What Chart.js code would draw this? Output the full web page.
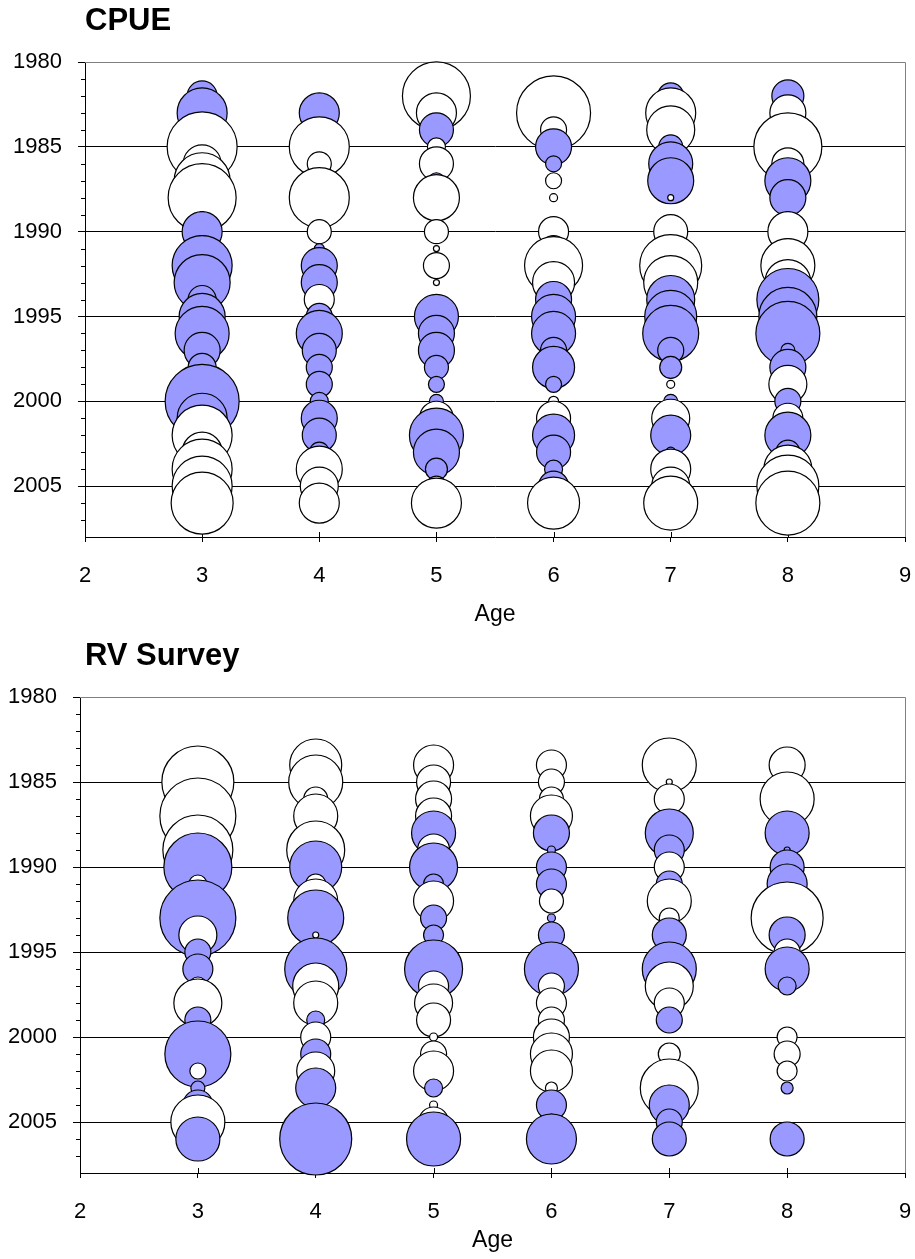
<!DOCTYPE html>
<html>
<head>
<meta charset="utf-8">
<script src="https://cdn.jsdelivr.net/npm/chart.js@4.4.1/dist/chart.umd.min.js"></script>
<style>
  html, body { margin: 0; padding: 0; background: #fff; }
  .panel { position: absolute; left: 0; width: 915px; }
</style>
</head>
<body>
<div class="panel" style="top:0;height:630px"><canvas id="cpue" width="915" height="630"></canvas></div>
<div class="panel" style="top:630px;height:629px"><canvas id="rv" width="915" height="629"></canvas></div>
<script>
// years 1982 .. 2006, residuals by age (positive = blue, negative = white)
const years = [1982, 1983, 1984, 1985, 1986, 1987, 1988, 1989, 1990, 1991, 1992, 1993, 1994,
  1995, 1996, 1997, 1998, 1999, 2000, 2001, 2002, 2003, 2004, 2005, 2006];
const ages = [3, 4, 5, 6, 7, 8];
const xTicks = [2, 3, 4, 5, 6, 7, 8, 9];

const cpueAge3 = [1.5, 2.5, 0.7, -3.5, -1.9, -2.8, -3.4, 0.3, 2.0, 1.3, 3.0, 2.8, 1.4, 2.3, 2.7, 1.8, 1.4, 1.0, 3.7, 2.5, -3.0, -2.0, -3.0, -3.0, -3.1];
const cpueAge4 = [0, 2.0, 0.8, -3.0, -1.2, -0.8, -3.0, 0, -1.2, 0.5, 1.8, 1.8, -1.5, 1.3, 2.3, 1.7, 1.3, 1.3, 0.9, 1.8, 1.7, 1.0, -2.3, -1.9, -2.0];
const cpueAge5 = [-3.4, -2.0, 1.7, -0.9, -1.7, 0.8, -2.3, 0, -1.2, -0.3, -1.3, -0.3, 0.3, 2.2, 1.8, 1.8, 1.2, 0.8, 0.7, -1.7, 2.7, 2.3, 1.1, -1.0, -2.5];
const cpueAge6 = [0.5, -3.7, -1.3, 1.8, 0.8, -0.8, -0.4, 0, -1.5, 1.3, -2.9, -2.1, 1.8, 2.2, 2.2, 1.3, 2.1, 0.8, -0.5, -1.7, 2.1, 1.7, 0.9, 1.5, -2.6];
const cpueAge7 = [1.3, -2.5, -2.4, 1.2, 2.2, 2.3, -0.3, 0, -1.7, 1.0, -3.1, -2.7, 2.4, 2.6, 2.8, 1.3, 1.1, -0.4, 0.7, -1.9, 2.0, 0.5, -2.0, -1.9, -2.7];
const cpueAge8 = [1.6, -1.8, 1.0, -3.4, -1.6, 2.3, 1.8, 0.3, -2.0, 1.0, -2.7, -2.3, 3.1, 2.9, 3.2, 0.7, 1.8, -1.9, 1.3, -1.5, 2.3, 1.2, -2.4, -3.1, -3.2];

const rvAge3 = [0, 0, 0.5, -3.6, -1.0, -3.8, -1.0, -3.5, 3.4, -0.9, 1.0, 3.8, -1.9, 1.3, 1.5, -0.9, -2.4, 1.3, 1.0, 3.3, -0.8, 0.7, 1.5, -2.7, 2.2];
const rvAge4 = [0, 0, -2.6, -2.7, -1.2, -2.2, -1.0, -2.9, 2.6, -1.0, -2.2, 2.8, -0.3, 1.0, 3.1, -2.3, -2.2, 0.9, -1.5, 1.5, -1.9, 2.0, 0, 1.0, 3.6];
const rvAge5 = [0, 0, -2.0, -1.7, -1.8, -1.8, 2.2, -1.6, 2.4, 1.0, -2.0, 1.3, 1.0, 1.0, 2.9, -1.5, -1.9, -1.7, -0.4, -1.3, -2.0, 0.9, -0.4, -1.5, 2.7];
const rvAge6 = [0, 0, -1.5, -1.3, -1.2, -2.1, 1.8, 0.4, 1.5, 1.5, -1.2, 0.4, 1.3, 0.8, 2.7, -1.3, -1.5, -1.3, -1.8, -2.1, -2.1, -0.6, 1.5, 0.8, 2.5];
const rvAge7 = [0, 0, -2.7, -0.3, -1.5, 0.6, 2.4, 1.5, -1.5, 1.3, -2.2, -1.0, 1.7, 0.8, 2.7, -2.4, -1.5, 1.3, 0, -1.1, 0.8, -2.9, 2.0, 1.3, 1.7];
const rvAge8 = [0, 0, -1.8, 0.6, -2.7, 0.3, 2.2, 0.3, 1.7, 2.0, 1.0, -3.6, 1.8, -1.3, 2.2, 0.9, 0, 0, -1.0, -1.3, -1.0, 0.6, 0, 0, 1.7];

const BUBBLE_PX = 10;   // pixels per residual unit
const FONT = '"Liberation Sans", Arial, sans-serif';

function makeDatasets(series) {
  return series.map((vals, k) => ({
    label: 'Age ' + ages[k],
    data: years.map((yr, i) => ({ x: ages[k], y: yr, r: Math.abs(vals[i]) * BUBBLE_PX, v: vals[i] }))
      .filter((p) => p.v !== 0),
    backgroundColor: (c) => (c.raw && c.raw.v > 0 ? '#9999FF' : '#FFFFFF'),
    borderColor: '#000000',
    borderWidth: 1.2,
    clip: false,
  }));
}

// title, frame, minor year ticks and inner half of the x ticks
const panelDecor = {
  id: 'panelDecor',
  beforeDatasetsDraw(chart) {
    const { ctx, chartArea: { left, right, top, bottom } } = chart;
    const { x, y } = chart.scales;
    ctx.save();
    ctx.strokeStyle = '#808080';
    ctx.lineWidth = 1;
    ctx.beginPath();
    ctx.moveTo(left, top + 0.5);
    ctx.lineTo(right + 0.5, top + 0.5);
    ctx.lineTo(right + 0.5, bottom);
    ctx.stroke();
    ctx.strokeStyle = '#000';
    ctx.beginPath();
    for (let yr = 1981; yr < 2008; yr++) {
      if (yr % 5 === 0) continue;
      const py = Math.round(y.getPixelForValue(yr)) + 0.5;
      ctx.moveTo(left - 4, py);
      ctx.lineTo(left, py);
    }
    xTicks.slice(1, -1).forEach((v) => {
      const px = Math.round(x.getPixelForValue(v)) + 0.5;
      ctx.moveTo(px, bottom);
      ctx.lineTo(px, bottom - 5);
    });
    ctx.stroke();
    ctx.restore();
  },
  afterDraw(chart, args, opts) {
    const { ctx } = chart;
    ctx.save();
    ctx.font = 'bold 31px ' + FONT;
    ctx.fillStyle = '#000';
    ctx.textBaseline = 'middle';
    ctx.textAlign = 'left';
    ctx.fillText(opts.text, opts.x, opts.y);
    ctx.restore();
  },
};

function makeChart(id, title, series, o) {
  return new Chart(document.getElementById(id), {
    type: 'bubble',
    data: { datasets: makeDatasets(series) },
    options: {
      responsive: false,
      animation: false,
      events: [],
      layout: { autoPadding: false, padding: { top: o.top, right: 10, left: 0, bottom: 0 } },
      scales: {
        x: {
          type: 'linear',
          min: 2,
          max: 9,
          afterBuildTicks: (s) => { s.ticks = xTicks.map((v) => ({ value: v })); },
          afterFit: (s) => { s.height = o.xHeight; s.paddingLeft = 0; s.paddingRight = 0; },
          grid: { drawOnChartArea: false, tickLength: 5, tickColor: '#000' },
          border: { color: '#000', width: 1 },
          ticks: { color: '#000', padding: 21, maxRotation: 0, font: { family: FONT, size: 22 } },
          title: { display: true, text: 'Age', color: '#000', padding: { top: 0, bottom: o.agePad }, font: { family: FONT, size: 23 } },
        },
        y: {
          type: 'linear',
          reverse: true,
          min: 1980,
          max: 2008,
          afterFit: (s) => { s.width = o.yWidth; s.paddingTop = 0; s.paddingBottom = 0; },
          grid: {
            color: (c) => (c.tick && c.tick.value % 5 === 0 ? (c.tick.value === 1980 ? '#808080' : '#000') : 'rgba(0,0,0,0)'),
            tickColor: (c) => (c.tick && c.tick.value % 5 === 0 ? '#000' : 'rgba(0,0,0,0)'),
            tickLength: 7,
          },
          border: { color: '#000', width: 1 },
          ticks: {
            stepSize: 1,
            autoSkip: false,
            color: '#000',
            padding: 16,
            font: { family: FONT, size: 22 },
            callback: (v) => (v % 5 === 0 ? String(v) : ''),
          },
        },
      },
      plugins: {
        legend: { display: false },
        tooltip: { enabled: false },
        panelDecor: { text: title, x: 85, y: o.titleY },
      },
    },
    plugins: [panelDecor],
  });
}

makeChart('cpue', 'CPUE', [cpueAge3, cpueAge4, cpueAge5, cpueAge6, cpueAge7, cpueAge8],
  { top: 62, xHeight: 93, yWidth: 85, titleY: 21, agePad: 2 });
makeChart('rv', 'RV Survey', [rvAge3, rvAge4, rvAge5, rvAge6, rvAge7, rvAge8],
  { top: 67, xHeight: 86, yWidth: 80, titleY: 26, agePad: 5 });
</script>
</body>
</html>
